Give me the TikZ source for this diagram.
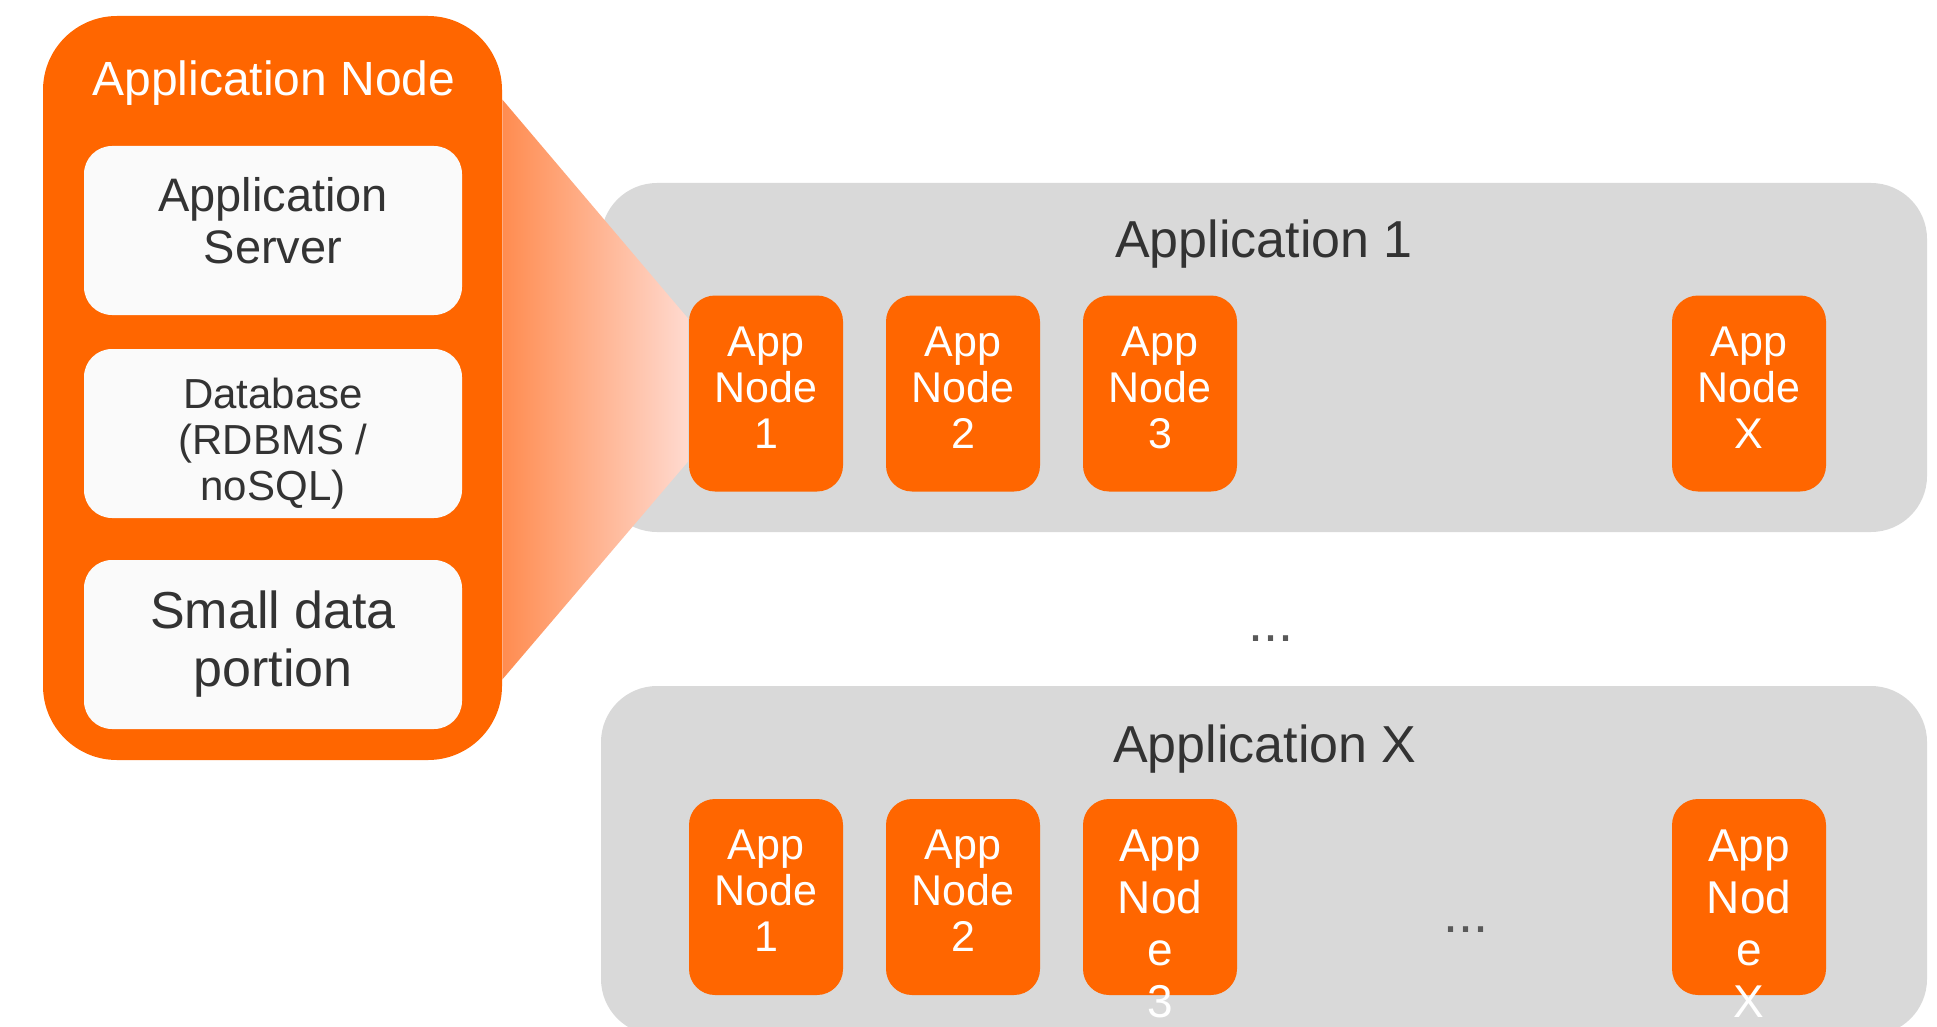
\documentclass[tikz,border=0pt]{standalone}
\usepackage{fontspec}
\setmainfont{Liberation Sans}
\usepackage{xcolor}
\usepackage{tikz}
\usetikzlibrary{positioning}
\definecolor{appOrange}{HTML}{FF6600}
\definecolor{partWhite}{HTML}{FAFAFA}
\definecolor{groupGray}{HTML}{D9D9D9}
\definecolor{textGray}{HTML}{333333}
\definecolor{dotGray}{HTML}{595959}
\definecolor{fadeLeft}{HTML}{FF8C50}
\definecolor{fadeRight}{HTML}{FFDAD0}
\tikzset{
    outerbox/.style = {rectangle, rounded corners=37pt, fill=appOrange, minimum width=229.5pt, minimum height=372pt},
    outertitle/.style = {inner sep=0pt, text=white, font=\fontsize{24}{27}\selectfont},
    part/.style = {rectangle, rounded corners=14pt, fill=partWhite, minimum width=189pt, minimum height=84.5pt},
    parttext/.style = {align=center, inner sep=0pt, text=textGray}
}
\tikzset{
    appgroup/.style = {rectangle, rounded corners=28pt, fill=groupGray, minimum width=663pt, minimum height=174.5pt},
    grouptitle/.style = {inner sep=0pt, text=textGray, font=\fontsize{26}{29}\selectfont},
    appnode/.style = {rectangle, rounded corners=13pt, fill=appOrange, minimum width=77pt, minimum height=98pt},
    apptext/.style = {align=center, inner sep=0pt, text=white, font=\fontsize{21.5}{23}\selectfont},
    overflow/.style = {align=center, inner sep=0pt, text=white, font=\fontsize{23}{26}\selectfont},
    dots/.style = {inner sep=0pt, text=dotGray, font=\fontsize{27}{30}\selectfont}
}
\begin{document}
\begin{tikzpicture}[x=0.5pt,y=-0.5pt]
    \useasboundingbox (0,0) rectangle (1937,1027);
    \clip (0,0) rectangle (1937,1027);
    % application groups
    \node [appgroup] (app1) at (1264,357.5) {};
    \node [appgroup] (appx) at (1264,860.5) {};
    \node [grouptitle] (app1title) at (1264,244) {Application 1};
    \node [grouptitle] (appxtitle) at (1265,749) {Application X};
    \node [dots] (groupdots) at (1271,639) {...};
    % the node in detail
    \node [outerbox] (outer) at (272.5,388) {};
    \node [outertitle] (outertitle) at (274,83) {Application Node};
    \node [part] (server) at (273,230.5) {};
    \node [part] (database) at (273,433.5) {};
    \node [part] (portion) at (273,644.5) {};
    \node [parttext, font=\fontsize{23.5}{26}\selectfont] (servertext) at ([yshift=5pt]server) {Application\\Server};
    \node [parttext, font=\fontsize{21}{23}\selectfont] (databasetext) at ([yshift=-5pt]database) {Database\\(RDBMS /\\noSQL)};
    \node [parttext, font=\fontsize{26}{29}\selectfont] (portiontext) at (portion) {Small data\\portion};
    % nodes of application 1
    \foreach \n/\x/\k in {an1/766/1, an2/963/2, an3/1160/3, anx/1749/X} {
        \node [appnode] (\n) at (\x,393.5) {};
        \node [apptext] (\n text) at ([yshift=3pt]\n) {App\\Node\\\k};
    }
    % nodes of application X
    \foreach \n/\x/\k in {xn1/766/1, xn2/963/2} {
        \node [appnode] (\n) at (\x,897) {};
        \node [apptext] (\n text) at ([yshift=3pt]\n) {App\\Node\\\k};
    }
    \node [appnode] (xn3) at (1160,897) {};
    \node [overflow, below=15.5pt of xn3.north] (xn3text) {App\\Nod\\e\\3};
    \node [dots] (nodedots) at (1466,930) {...};
    \node [appnode] (xnx) at (1749,897) {};
    \node [overflow, below=15.5pt of xnx.north] (xnxtext) {App\\Nod\\e\\X};
    % zoom funnel
    \shade [left color=fadeLeft, right color=fadeRight]
        ([yshift=-42pt]outer.north east) -- ([yshift=-12pt]an1.north west)
        -- ([yshift=15.5pt]an1.south west) -- ([yshift=40.5pt]outer.south east) -- cycle;
\end{tikzpicture}
\end{document}
